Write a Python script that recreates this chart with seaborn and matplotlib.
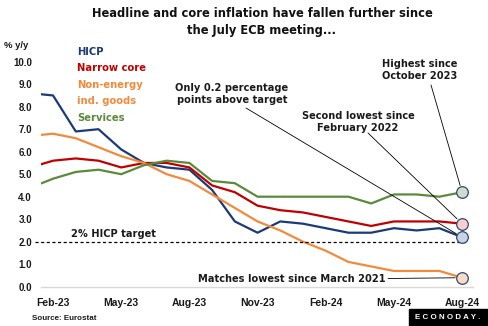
import matplotlib
matplotlib.use("Agg")
import matplotlib.pyplot as plt
import seaborn as sns
import pandas as pd
import numpy as np

# Monthly euro area inflation, % y/y, Jan-23 .. Aug-24
months = ["Jan-23", "Feb-23", "Mar-23", "Apr-23", "May-23", "Jun-23", "Jul-23",
          "Aug-23", "Sep-23", "Oct-23", "Nov-23", "Dec-23", "Jan-24", "Feb-24",
          "Mar-24", "Apr-24", "May-24", "Jun-24", "Jul-24", "Aug-24"]
hicp = [8.6, 8.5, 6.9, 7.0, 6.1, 5.5, 5.3, 5.2, 4.3, 2.9, 2.4, 2.9, 2.8, 2.6,
        2.4, 2.4, 2.6, 2.5, 2.6, 2.2]
narrow_core = [5.3, 5.6, 5.7, 5.6, 5.3, 5.5, 5.5, 5.3, 4.5, 4.2, 3.6, 3.4, 3.3,
               3.1, 2.9, 2.7, 2.9, 2.9, 2.9, 2.8]
neig = [6.7, 6.8, 6.6, 6.2, 5.8, 5.5, 5.0, 4.7, 4.1, 3.5, 2.9, 2.5, 2.0, 1.6,
        1.1, 0.9, 0.7, 0.7, 0.7, 0.4]
services = [4.4, 4.8, 5.1, 5.2, 5.0, 5.4, 5.6, 5.5, 4.7, 4.6, 4.0, 4.0, 4.0,
            4.0, 4.0, 3.7, 4.1, 4.1, 4.0, 4.2]
series_names = ["HICP", "Narrow core", "Non-energy ind. goods", "Services"]
tick_months = ["Feb-23", "May-23", "Aug-23", "Nov-23", "Feb-24", "May-24", "Aug-24"]
target = 2.0

colors = {"HICP": "#1b3a78", "Narrow core": "#c00000",
          "Non-energy ind. goods": "#f28a3c", "Services": "#5b8a3a"}
marker_fill = {"HICP": "#c9d3e6", "Narrow core": "#f7cfcf",
               "Non-energy ind. goods": "#f9dcc6", "Services": "#cfdccc"}

pos = np.arange(len(months))
df = pd.concat([
    pd.DataFrame({"x": pos, "value": vals, "series": name})
    for name, vals in zip(series_names, [hicp, narrow_core, neig, services])
])

sns.set_theme(style="white")
plt.rcParams["font.family"] = ["DejaVu Sans"]
plt.rcParams["font.weight"] = "bold"
TICK_FONT = ["Liberation Sans", "DejaVu Sans"]

TXT = "#1a1a1a"
fig = plt.figure(figsize=(4.89, 3.26), dpi=100)
ax = fig.add_axes([41 / 489, 1 - 286.7 / 326, 432 / 489, 225 / 326])

sns.lineplot(data=df, x="x", y="value", hue="series", palette=colors,
             hue_order=series_names, linewidth=1.6, legend=False, ax=ax)

last = df[df["x"] == pos[-1]]
for _, row in last.iterrows():
    ax.scatter([row["x"]], [row["value"]], s=70, color=marker_fill[row["series"]],
               edgecolor="#2e4a78", linewidth=0.9, zorder=5, clip_on=False)

ax.set_xlim(0.47, 19.48)
ax.set_ylim(0, 10)
yt = np.arange(0, 10.5, 1.0)
ax.set_yticks(yt)
ax.set_yticklabels([f"{v:.1f}" for v in yt], fontsize=7, fontweight="bold",
                   color=TXT, family=TICK_FONT)
ax.set_xticks([months.index(m) for m in tick_months])
ax.set_xticklabels(tick_months, fontsize=7.5, fontweight="bold", color=TXT,
                   family=TICK_FONT)
ax.tick_params(axis="y", length=0, pad=6.5)
ax.tick_params(axis="x", length=0, pad=8)
ax.set_xlabel("")
ax.set_ylabel("")
for side in ["top", "right", "left"]:
    ax.spines[side].set_visible(False)
ax.spines["bottom"].set_color("#d9d9d9")
ax.spines["bottom"].set_linewidth(1.0)

# 2% target line
ax.plot([0.21, 19.22], [target, target], ls=(0, (2.5, 2)), color="black",
        lw=0.9, clip_on=False, zorder=2)
ax.text(3.65, target + 0.12, "2% HICP target", fontsize=7.1, fontweight="bold",
        ha="center", va="bottom", color=TXT)

# Series labels
legend_y = [52, 68, 85, 101, 118]
legend_txt = ["HICP", "Narrow core", "Non-energy", "ind. goods", "Services"]
legend_col = [colors["HICP"], colors["Narrow core"], colors["Non-energy ind. goods"],
              colors["Non-energy ind. goods"], colors["Services"]]
for t, yy, c in zip(legend_txt, legend_y, legend_col):
    fig.text(77 / 489, 1 - yy / 326, t, fontsize=7.2, fontweight="bold",
             color=c, ha="left", va="center")

# Callouts: leader line from the text to the latest reading
def leader(start_px, value):
    ax.annotate("", xy=(pos[-1], value), xytext=(start_px[0] / 489, 1 - start_px[1] / 326),
                textcoords="figure fraction",
                arrowprops=dict(arrowstyle="-", color="black", lw=0.6,
                                shrinkA=0, shrinkB=5))

def label(text, xy_px, ha="center"):
    fig.text(xy_px[0] / 489, 1 - xy_px[1] / 326, text, fontsize=7.1, fontweight="bold",
             ha=ha, va="center", color=TXT, linespacing=1.35)

leader((246, 108), hicp[-1])
label("Only 0.2 percentage\npoints above target", (232, 94))
leader((368, 133), narrow_core[-1])
label("Second lowest since\nFebruary 2022", (358, 122))
leader((431, 85), services[-1])
label("Highest since\nOctober 2023", (420, 70))
leader((388, 278.5), neig[-1])
label("Matches lowest since March 2021", (386, 278.5), ha="right")

# Title, unit, source, logo
fig.text(262 / 489, 1 - 22 / 326,
         "Headline and core inflation have fallen further since\nthe July ECB meeting...",
         fontsize=8.3, fontweight="bold", ha="center", va="center",
         color="#111111", linespacing=1.45)
fig.text(4 / 489, 1 - 45 / 326, "% y/y", fontsize=6.8, fontweight="bold",
         ha="left", va="center", color=TXT, family=TICK_FONT)
fig.text(32 / 489, 1 - 319 / 326, "Source: Eurostat", fontsize=5.8, fontweight="bold",
         ha="left", va="center", color=TXT, family=TICK_FONT)
fig.patches.append(plt.Rectangle((409 / 489, 0), 80 / 489, 17 / 326,
                                 transform=fig.transFigure, color="black", zorder=3))
fig.text(448 / 489, 8.5 / 326, "E C O N O D A Y .", fontsize=5.7, fontweight="bold",
         ha="center", va="center", color="white", zorder=4, family=TICK_FONT)

fig.savefig("out.png", dpi=100)
